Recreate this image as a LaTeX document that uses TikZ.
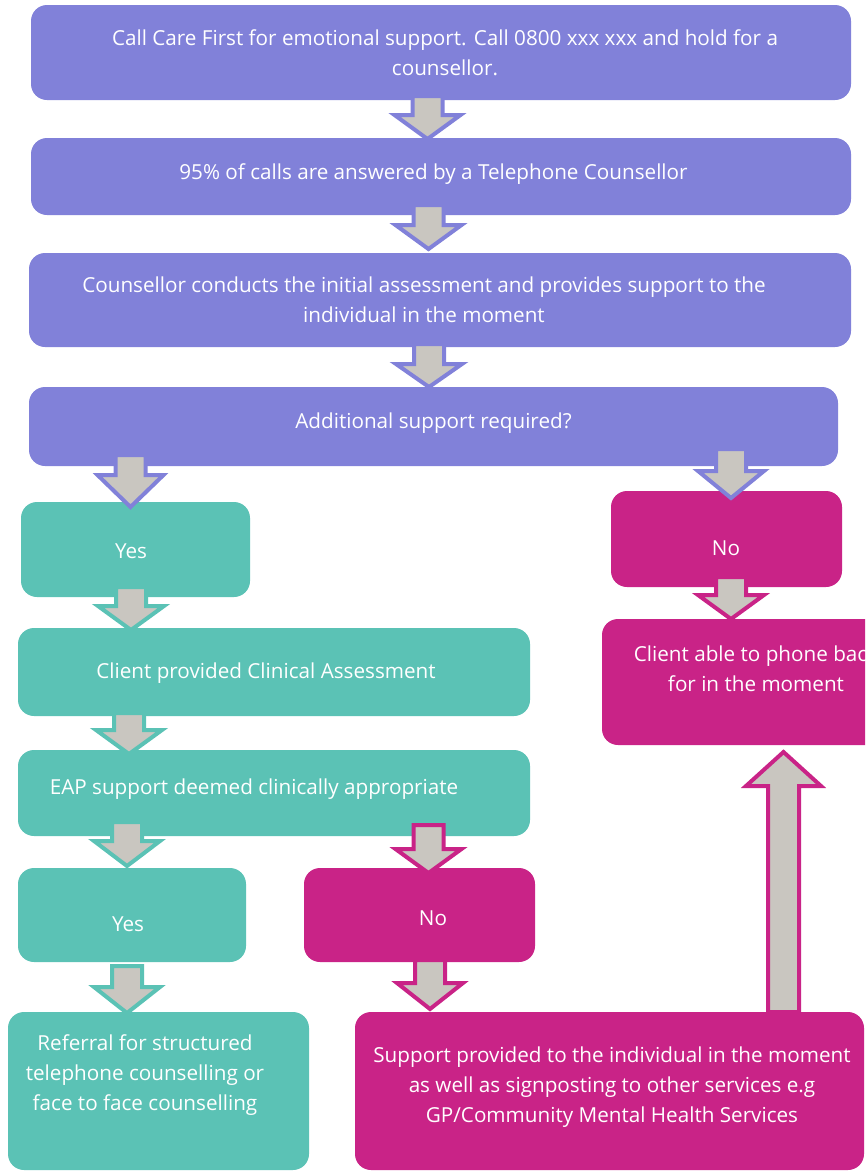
\documentclass[tikz,border=0pt]{standalone}
\usepackage{fontspec}
\setmainfont{Open Sans}
\usetikzlibrary{fit}
\definecolor{purp}{RGB}{129,129,217}
\definecolor{tealc}{RGB}{91,194,181}
\definecolor{mag}{RGB}{201,35,135}
\definecolor{arrgray}{RGB}{201,198,192}
\tikzset{
 box/.style={rectangle, rounded corners=12pt, draw=none, inner sep=0pt},
 pbox/.style={box, fill=purp},
 tbox/.style={box, fill=tealc},
 mbox/.style={box, fill=mag},
 txt/.style={text=white, align=center, font=\fontsize{15.5}{22.5}\selectfont, inner sep=0pt},
 barrow/.style={fill=arrgray, draw=#1, line width=3pt, miter limit=10},
}
% colour, x, top, tip, head length
\newcommand\dnarr[5]{%
 \draw[barrow=#1] (#2-15,#3) -- (#2+15,#3) -- (#2+15,#4-#5) -- (#2+33,#4-#5) -- (#2,#4) -- (#2-33,#4-#5) -- (#2-15,#4-#5) -- cycle;}
% colour, x, bottom, tip, head length
\newcommand\uparr[5]{%
 \draw[barrow=#1] (#2-15.5,#3) -- (#2+15.5,#3) -- (#2+15.5,#4+#5) -- (#2+37.5,#4+#5) -- (#2,#4) -- (#2-37.5,#4+#5) -- (#2-15.5,#4+#5) -- cycle;}
\begin{document}
\begin{tikzpicture}[x=0.75pt,y=-0.75pt]
\useasboundingbox (0,0) rectangle (865,1172);
\clip (0,0) rectangle (865,1172);
% boxes
\node[pbox, fit={(31,5) (851,100)}] (b1) {};
\node[pbox, fit={(31,138) (851,215)}] (b2) {};
\node[pbox, fit={(29,253) (851,347)}] (b3) {};
\node[pbox, fit={(29,387) (838,466)}] (b4) {};
\node[tbox, fit={(21,502) (250,597)}] (yes1) {};
\node[mbox, fit={(611,491) (842,587)}] (no1) {};
\node[tbox, fit={(18,628) (530,716)}] (cpa) {};
\node[tbox, fit={(18,750) (530,836)}] (eap) {};
\node[tbox, fit={(18,868) (246,962)}] (yes2) {};
\node[mbox, fit={(304,868) (535,962)}] (no2) {};
\node[mbox, fit={(602,619) (896,745)}] (cab) {};
\node[mbox, fit={(355,1012) (864,1170)}] (sup) {};
\node[tbox, fit={(8,1012) (309,1170)}] (ref) {};
% texts
\node[txt] (t1) at (445,53) {Call Care First for emotional support. Call 0800 xxx xxx and hold for a\\counsellor.};
\node[txt] (t2) at (433.5,174) {95\% of calls are answered by a Telephone Counsellor};
\node[txt] (t3) at (424,300) {Counsellor conducts the initial assessment and provides support to the\\individual in the moment};
\node[txt] (t4) at (433.5,423) {Additional support required?};
\node[txt] (tyes1) at (131,551) {Yes};
\node[txt] (tno1) at (726,548) {No};
\node[txt] (tcpa) at (266,673) {Client provided Clinical Assessment};
\node[txt] (teap) at (254,789) {EAP support deemed clinically appropriate};
\node[txt] (tyes2) at (128,924) {Yes};
\node[txt] (tno2) at (433,918) {No};
\node[txt] (tcab) at (756,669) {Client able to phone back\\for in the moment};
\node[txt] (tsup) at (612,1087) {Support provided to the individual in the moment\\as well as signposting to other services e.g\\GP/Community Mental Health Services};
\node[txt] (tref) at (145,1075) {Referral for structured\\telephone counselling or\\face to face counselling};
% arrows
\dnarr{purp}{427.5}{96}{139}{24}
\dnarr{purp}{428.5}{205}{249}{24}
\dnarr{purp}{429}{344}{387}{23}
\dnarr{purp}{130.5}{455}{507}{32}
\dnarr{purp}{731}{449}{498}{27}
\dnarr{tealc}{131}{587}{630}{24}
\dnarr{mag}{731}{577}{619}{24}
\dnarr{tealc}{129}{713}{754}{24}
\dnarr{tealc}{127}{822}{866}{25}
\dnarr{mag}{428.5}{825}{873}{24}
\dnarr{tealc}{127}{966}{1013}{26}
\dnarr{mag}{430}{960}{1009}{26}
\uparr{mag}{783.5}{1012}{752}{34}
\end{tikzpicture}
\end{document}
